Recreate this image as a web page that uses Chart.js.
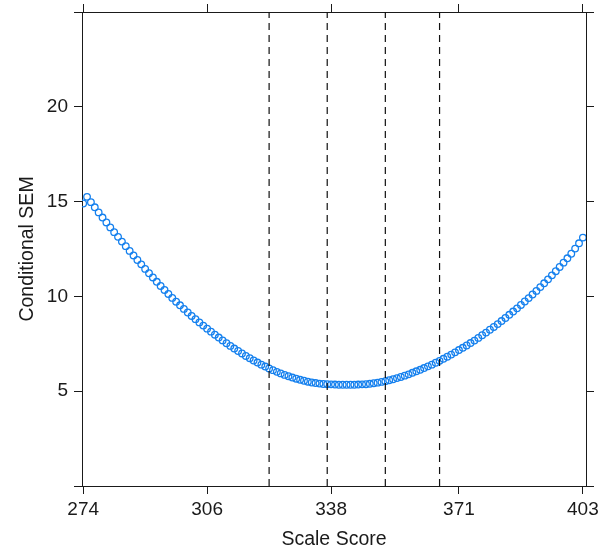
<!DOCTYPE html>
<html>
<head>
<meta charset="utf-8">
<script src="https://cdn.jsdelivr.net/npm/chart.js@4/dist/chart.umd.min.js"></script>
<style>
  html, body { margin: 0; padding: 0; background: #fff; }
  canvas { display: block; }
</style>
</head>
<body>
<canvas id="chart" width="609" height="554"></canvas>
<script>
// scale scores on the x axis
const scores = [
  274, 275, 276, 277, 278, 279, 280, 281, 282, 283,
  284, 285, 286, 287, 288, 289, 290, 291, 292, 293,
  294, 295, 296, 297, 298, 299, 300, 301, 302, 303,
  304, 305, 306, 307, 308, 309, 310, 311, 312, 313,
  314, 315, 316, 317, 318, 319, 320, 321, 322, 323,
  324, 325, 326, 327, 328, 329, 330, 331, 332, 333,
  334, 335, 336, 337, 338, 339, 340, 341, 342, 343,
  344, 345, 346, 347, 348, 349, 350, 351, 352, 353,
  354, 355, 356, 357, 358, 359, 360, 361, 362, 363,
  364, 365, 366, 367, 368, 369, 370, 371, 372, 373,
  374, 375, 376, 377, 378, 379, 380, 381, 382, 383,
  384, 385, 386, 387, 388, 389, 390, 391, 392, 393,
  394, 395, 396, 397, 398, 399, 400, 401, 402, 403
]

// conditional SEM, one per score
const sem = [
  14.90, 15.25, 14.97, 14.70, 14.43, 14.16, 13.90, 13.64, 13.39, 13.14,
  12.89, 12.65, 12.40, 12.16, 11.92, 11.69, 11.45, 11.22, 11.00, 10.77,
  10.55, 10.34, 10.13, 9.92, 9.72, 9.53, 9.34, 9.15, 8.97, 8.80,
  8.63, 8.46, 8.30, 8.14, 7.98, 7.83, 7.68, 7.53, 7.39, 7.25,
  7.12, 6.99, 6.86, 6.74, 6.62, 6.51, 6.40, 6.30, 6.20, 6.11,
  6.02, 5.94, 5.86, 5.79, 5.72, 5.66, 5.60, 5.55, 5.50, 5.46,
  5.43, 5.40, 5.38, 5.37, 5.36, 5.35, 5.34, 5.34, 5.34, 5.34,
  5.34, 5.35, 5.36, 5.37, 5.39, 5.42, 5.45, 5.49, 5.53, 5.58,
  5.63, 5.69, 5.75, 5.82, 5.89, 5.97, 6.05, 6.13, 6.22, 6.31,
  6.40, 6.50, 6.60, 6.71, 6.82, 6.93, 7.05, 7.17, 7.29, 7.41,
  7.54, 7.67, 7.81, 7.95, 8.09, 8.24, 8.39, 8.54, 8.70, 8.86,
  9.03, 9.20, 9.37, 9.55, 9.73, 9.91, 10.10, 10.29, 10.49, 10.69,
  10.90, 11.11, 11.33, 11.55, 11.78, 12.01, 12.25, 12.52, 12.80, 13.10
]

// cut scores shown as dashed vertical lines
const cutScores = [322, 337, 352, 366]

const xTicks = [274, 306, 338, 371, 403]
const yTicks = [0, 5, 10, 15, 20, 25]
const yLabelled = [5, 10, 15, 20]

const xMin = 273.7
const xMax = 403.8
const yMin = 0
const yMax = 25

const FONT = 'Liberation Sans, Arial, sans-serif'
const INK = '#1a1a1a'

const cutDatasets = cutScores.map(c => ({
  type: 'line',
  data: [{ x: c, y: yMin }, { x: c, y: yMax }],
  borderColor: '#111',
  borderWidth: 1.2,
  borderDash: [7, 5],
  pointRadius: 0,
  fill: false
}))

function setTicks(values) {
  return scale => { scale.ticks = values.map(v => ({ value: v })) }
}

// force the axis box size and drop the label overhang padding
function fixSize(prop, size) {
  return scale => {
    scale[prop] = size
    scale.paddingTop = 0
    scale.paddingBottom = 0
    scale.paddingLeft = 0
    scale.paddingRight = 0
  }
}

const axisBase = {
  type: 'linear',
  border: { display: true, color: INK, width: 1 },
  grid: { drawOnChartArea: false, drawTicks: true, tickLength: 8, tickColor: INK, color: INK }
}

const ctx = document.getElementById('chart').getContext('2d')
new Chart(ctx, {
  type: 'scatter',
  data: {
    datasets: [
      ...cutDatasets,
      {
        type: 'scatter',
        data: scores.map((s, i) => ({ x: s, y: sem[i] })),
        pointStyle: 'circle',
        pointRadius: 3.3,
        pointBorderWidth: 1.3,
        borderColor: '#1580ee',
        backgroundColor: 'rgba(0,0,0,0)'
      }
    ]
  },
  options: {
    responsive: false,
    animation: false,
    layout: { padding: 0 },
    plugins: {
      legend: { display: false },
      tooltip: { enabled: false }
    },
    scales: {
      x: {
        ...axisBase,
        position: 'bottom',
        min: xMin,
        max: xMax,
        afterBuildTicks: setTicks(xTicks),
        afterFit: fixSize('height', 68),
        ticks: { color: INK, padding: 4, maxRotation: 0, font: { family: FONT, size: 19 } },
        title: {
          display: true,
          text: 'Scale Score',
          color: INK,
          padding: { top: 0, bottom: 3 },
          font: { family: FONT, size: 19.5 }
        }
      },
      x2: {
        ...axisBase,
        position: 'top',
        min: xMin,
        max: xMax,
        afterBuildTicks: setTicks(xTicks),
        afterFit: fixSize('height', 12),
        ticks: { display: false }
      },
      y: {
        ...axisBase,
        position: 'left',
        min: yMin,
        max: yMax,
        afterBuildTicks: setTicks(yTicks),
        afterFit: fixSize('width', 82),
        ticks: {
          color: INK,
          padding: 6,
          font: { family: FONT, size: 19 },
          callback: v => yLabelled.includes(v) ? String(v) : ''
        },
        title: {
          display: true,
          text: 'Conditional SEM',
          color: INK,
          padding: { top: 16, bottom: 0 },
          font: { family: FONT, size: 19.5 }
        }
      },
      y2: {
        ...axisBase,
        position: 'right',
        min: yMin,
        max: yMax,
        afterBuildTicks: setTicks(yTicks),
        afterFit: fixSize('width', 23),
        ticks: { display: false }
      }
    }
  }
})
</script>
</body>
</html>
